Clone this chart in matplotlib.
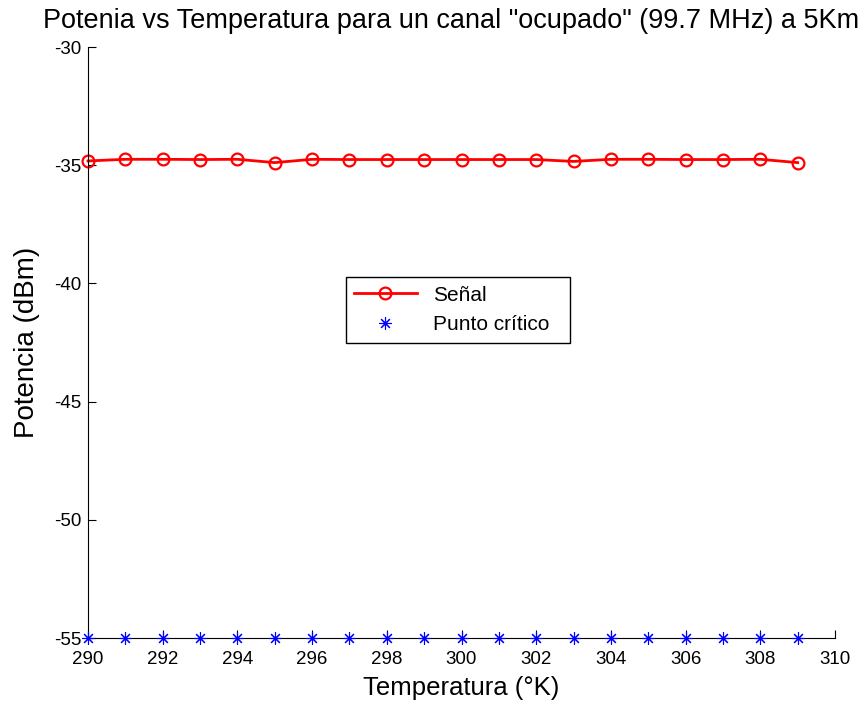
import matplotlib
matplotlib.use("Agg")
import numpy as np
import matplotlib.pyplot as plt

plt.rcParams['font.family'] = ['Liberation Sans', 'DejaVu Sans']
plt.rcParams['axes.unicode_minus'] = False

# Temperatura (K) y potencia medida (dBm)
temperatura = [290, 291, 292, 293, 294, 295, 296, 297, 298, 299,
               300, 301, 302, 303, 304, 305, 306, 307, 308, 309]
senal = [-34.82, -34.75, -34.75, -34.76, -34.75, -34.89, -34.75, -34.76, -34.76, -34.76,
         -34.76, -34.76, -34.76, -34.84, -34.75, -34.75, -34.76, -34.76, -34.75, -34.89]
punto_critico = [-55] * len(temperatura)

fig = plt.figure(figsize=(8.68, 7.09), dpi=100)
ax = fig.add_axes([0.1014, 0.1001, 0.8606, 0.8336])

ax.plot(temperatura, senal, "-o", color="red", linewidth=2, markersize=8.5,
        markerfacecolor="none", markeredgewidth=1.6, label="Señal", clip_on=False)
ax.plot(temperatura, punto_critico, marker=(8, 2, 0), color="blue", linestyle="none",
        markersize=9, markeredgewidth=0.8, label="Punto crítico", clip_on=False, zorder=3)

ax.set_xlim(290, 310)
ax.set_ylim(-55, -30)
ax.set_xticks(np.arange(290, 311, 2))
ax.set_yticks(np.arange(-55, -29, 5))
ax.spines["top"].set_visible(False)
ax.spines["right"].set_visible(False)
ax.tick_params(direction="in", length=6, labelsize=13.5)
ax.tick_params(axis="x", pad=9)
ax.tick_params(axis="y", pad=5)

ax.set_title('Potenia vs Temperatura para un canal "ocupado" (99.7 MHz) a 5Km',
             fontsize=19.5, x=0.486, pad=14)
ax.set_xlabel("Temperatura (°K)", fontsize=18.5, labelpad=6)
ax.set_ylabel("Potencia (dBm)", fontsize=20, labelpad=10)

leg = ax.legend(loc="lower left", bbox_to_anchor=(0.345, 0.50, 0.30, 0.121),
                mode="expand", fontsize=15, fancybox=False, edgecolor="black",
                framealpha=1, borderaxespad=0, handlelength=3.0)
leg.get_frame().set_linewidth(1)

fig.savefig("out.png", dpi=100)
